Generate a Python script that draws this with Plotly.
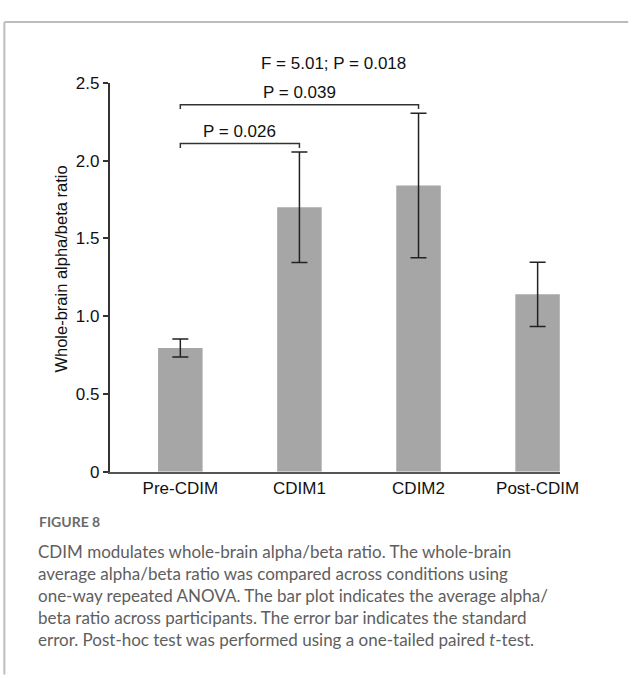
import plotly.graph_objects as go

categories = ["Pre-CDIM", "CDIM1", "CDIM2", "Post-CDIM"]
means = [0.795, 1.70, 1.84, 1.14]
sem = [0.058, 0.355, 0.465, 0.207]
y_ticks = [0, 0.5, 1.0, 1.5, 2.0, 2.5]
y_tick_labels = ["0", "0.5", "1.0", "1.5", "2.0", "2.5"]

comparisons = [  # (from index, to index, bracket height, label)
    (0, 1, 2.11, "P = 0.026"),
    (0, 2, 2.36, "P = 0.039"),
]
anova_label = "F = 5.01; P = 0.018"

caption_title = "FIGURE 8"
caption_lines = [
    "CDIM modulates whole-brain alpha/beta ratio. The whole-brain",
    "average alpha/beta ratio was compared across conditions using",
    "one-way repeated ANOVA. The bar plot indicates the average alpha/",
    "beta ratio across participants. The error bar indicates the standard",
    "error. Post-hoc test was performed using a one-tailed paired <i>t</i>-test.",
]

W, H = 641, 678
FONT = "Liberation Sans, Arial, sans-serif"

x_idx = list(range(len(categories)))

fig = go.Figure()
fig.add_trace(go.Bar(
    x=x_idx, y=means, width=0.374,
    marker=dict(color="#a6a6a6", line=dict(width=0)),
    error_y=dict(type="data", array=sem, visible=True, color="#222222",
                 thickness=1.5, width=8),
    showlegend=False, hoverinfo="skip",
))

shapes = []
for (a, b, h, lab) in comparisons:
    drop = 0.028
    shapes.append(dict(type="path", xref="x", yref="y",
                       path=f"M {a},{h - drop} L {a},{h} L {b},{h} L {b},{h - drop}",
                       line=dict(color="#333333", width=1.5)))

# figure border (top and left visible)
shapes.append(dict(type="line", xref="paper", yref="paper",
                   x0=4.5 / W, x1=1.01, y0=1 - 13.5 / H, y1=1 - 13.5 / H,
                   line=dict(color="#bdbdbd", width=2)))
shapes.append(dict(type="line", xref="paper", yref="paper",
                   x0=4.5 / W, x1=4.5 / W, y0=-0.01, y1=1 - 13.5 / H,
                   line=dict(color="#bdbdbd", width=2)))

annotations = []
for (a, b, h, lab) in comparisons:
    annotations.append(dict(x=(a + b) / 2, y=h + 0.08, xref="x", yref="y",
                            text=lab, showarrow=False,
                            font=dict(family=FONT, size=17, color="#111111"),
                            yanchor="middle"))
annotations.append(dict(x=1.29, y=1.05, xref="x", yref="y domain",
                        text=anova_label, showarrow=False,
                        font=dict(family=FONT, size=17, color="#111111"),
                        yanchor="middle"))
annotations.append(dict(x=63 / W, y=1 - 268 / H, xref="paper", yref="paper",
                        text="Whole-brain alpha/beta ratio", textangle=-90,
                        showarrow=False,
                        font=dict(family=FONT, size=16.5, color="#111111"),
                        xanchor="center", yanchor="middle"))
annotations.append(dict(x=38 / W, y=1 - 527 / H, xref="paper", yref="paper",
                        text=f"<b>{caption_title}</b>", showarrow=False,
                        font=dict(family="Lato, sans-serif", size=14, color="#6a6a6a"),
                        xanchor="left", yanchor="middle"))
annotations.append(dict(x=37 / W, y=1 - 545 / H, xref="paper", yref="paper",
                        text="<br>".join(caption_lines), showarrow=False, align="left",
                        font=dict(family="Lato, sans-serif", size=17, color="#5e5e5e"),
                        xanchor="left", yanchor="top"))

fig.update_layout(
    width=W, height=H,
    margin=dict(l=0, r=0, t=0, b=0),
    paper_bgcolor="white", plot_bgcolor="white",
    shapes=shapes, annotations=annotations,
    font=dict(family=FONT, size=17, color="#111111"),
    xaxis=dict(domain=[113 / W, 577 / W], range=[-0.5935, 3.187],
               tickvals=x_idx, ticktext=categories, ticks="",
               showline=True, linecolor="#555555", linewidth=1.5,
               showgrid=False, zeroline=False,
               tickfont=dict(family=FONT, size=17, color="#111111")),
    yaxis=dict(domain=[1 - 476 / H, 1 - 76 / H], range=[0, 2.5],
               tickvals=y_ticks, ticktext=y_tick_labels,
               ticks="outside", ticklen=5, tickwidth=1.5, tickcolor="#333333",
               showline=True, linecolor="#333333", linewidth=1.5,
               showgrid=False, zeroline=False,
               tickfont=dict(family=FONT, size=17, color="#111111")),
)

fig.write_html("out.html", config={"displayModeBar": False},
               post_script="document.body.style.margin='0';document.body.style.overflow='hidden';")
